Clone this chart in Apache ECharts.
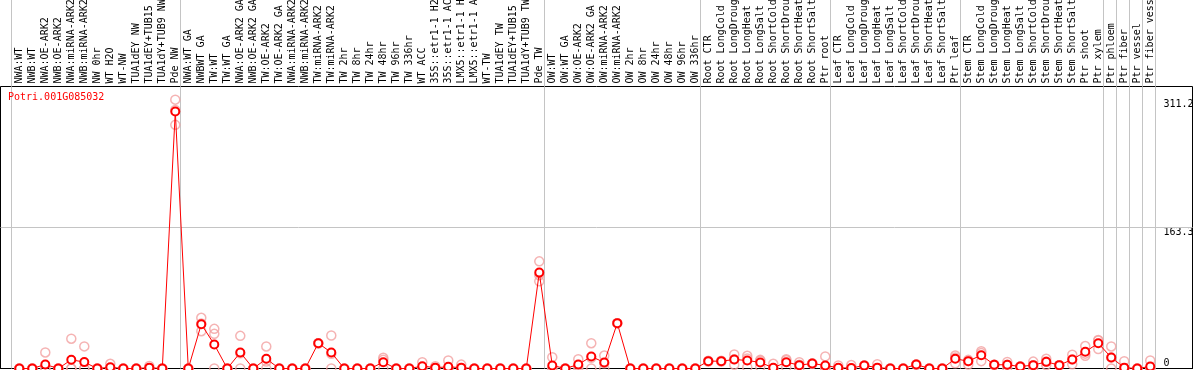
<!DOCTYPE html>
<html><head><meta charset="utf-8">
<script src="https://cdn.jsdelivr.net/npm/echarts@6/dist/echarts.min.js"></script>
<style>html,body{margin:0;padding:0;background:#fff}#c{width:1194px;height:370px}</style>
</head><body><div id="c"></div>
<script>
const geneId = 'Potri.001G085032';
const categories = [
  'NWA:WT','NWB:WT','NWA:OE-ARK2','NWB:OE-ARK2','NWA:miRNA-ARK2','NWB:miRNA-ARK2','NW 0hr','WT H2O','WT-NW','TUA1dEY NW','TUA1dEY+TUB15','TUA1dY+TUB9 NW','Pde NW',
  'NWA:WT GA','NWBWT GA','TW:WT','TW:WT GA','NWA:OE-ARK2 GA','NWB:OE-ARK2 GA','TW:OE-ARK2','TW:OE-ARK2 GA','NWA:miRNA-ARK2','NWB:miRNA-ARK2','TW:miRNA-ARK2','TW:miRNA-ARK2','TW 2hr','TW 8hr','TW 24hr','TW 48hr','TW 96hr','TW 336hr','WT ACC','35S::etr1-1 H2O','35S::etr1-1 ACC','LMX5::etr1-1 H2O','LMX5::etr1-1 ACC','WT-TW','TUA1dEY TW','TUA1dEY+TUB15','TUA1dY+TUB9 TW','Pde TW',
  'OW:WT','OW:WT GA','OW:OE-ARK2','OW:OE-ARK2 GA','OW:miRNA-ARK2','OW:miRNA-ARK2','OW 2hr','OW 8hr','OW 24hr','OW 48hr','OW 96hr','OW 336hr',
  'Root CTR','Root LongCold','Root LongDrought','Root LongHeat','Root LongSalt','Root ShortCold','Root ShortDrought','Root ShortHeat','Root ShortSalt','Ptr root',
  'Leaf CTR','Leaf LongCold','Leaf LongDrought','Leaf LongHeat','Leaf LongSalt','Leaf ShortCold','Leaf ShortDrought','Leaf ShortHeat','Leaf ShortSalt','Ptr leaf',
  'Stem CTR','Stem LongCold','Stem LongDrought','Stem LongHeat','Stem LongSalt','Stem ShortCold','Stem ShortDrought','Stem ShortHeat','Stem ShortSalt','Ptr shoot','Ptr xylem',
  'Ptr phloem','Ptr fiber','Ptr vessel','Ptr fiber vessel'
];
const groupSizes = [13, 28, 12, 10, 10, 11, 1, 1, 1, 1];
const means = [
  0,0,4.7,0,10.1,7.4,0,1.5,0,0,1,0,297.5,
  0,51.3,27.8,0,18.5,0,11.2,0,0,0,29.3,18.5,0,0,0,7.3,0,0,2.7,1,1.9,1,0,0,0,0,0,111,
  3.5,0,4.6,13.9,7,52.5,0,0,0,0,0,0,
  8.5,8.5,10.4,9.3,7,0.8,7.3,3.9,5.8,3.5,
  0.8,0.5,3.5,1,0,0,4.6,0,0,11.2,
  8.5,15.4,4.3,4.3,2.3,3.9,7.7,3.9,10.4,19.3,29.3,
  12.7,1,0,2.3
];
const repA = [
  0,0,18.6,0,34.5,25.6,0,5.4,0,0,3,0,311.2,
  0,58.7,45.9,0,37.8,0,25.5,0,0,0,29.3,38.2,0,0,0,12.4,0,0,7.3,2.7,9.3,4.5,0,0,0,0,0,124,
  13,0,10.8,29.3,15,52.5,0,0,0,0,0,0,
  9,9,16.2,14.7,10,5.4,10.8,7.3,5.8,14,
  3.5,4,3.5,5,0,0,4.6,0,0,15,
  10,20,4.3,7.5,2.3,8,11.2,3.9,16,26,32.4,
  25.5,8.5,0,9.3
];
const repB = [
  0,0,0,0,0,0,0,0,0,0,0,0,299.3,
  0,52,40.1,0,17.7,0,8,0,0,0,29.3,17,0,0,0,10,0,0,0.8,0.3,0,0,0,0,0,0,0,108,
  0,0,3,12.4,6,52.5,0,0,0,0,0,0,
  8.5,8.5,10.6,11.7,9,0,9.6,4.4,5.8,0,
  0,0,3.5,0,0,0,4.6,0,0,12.6,
  8.5,17.8,4.3,4.3,2.3,3.7,8,3.9,10.4,17.2,32.9,
  12.6,0,0,0
];
const repC = [
  0,0,0,0,0,0,0,0,0,0,0,0,282,
  0,43.2,0,0,0,0,0,0,0,0,29.3,0,0,0,0,0,0,0,0,0,0,0,0,0,0,0,0,101,
  0,0,0,0,0,52.5,0,0,0,0,0,0,
  8,8,4.4,1.5,2,0,1.5,0,5.8,0,
  0,0,3.5,0,0,0,4.6,0,0,6,
  4.6,8.5,4.3,1,2.3,0,4,3.9,4.8,14.7,22.6,
  0,0,0,0
];
const yLabelValuesTop = [163.3, 311.2];
const yLabelValuesBottom = [0];
const yGridValue = 163.3;

const font = 'DejaVu Sans Mono';
const xMin = -1.446, xMax = 90.25, yMax = 326.4;

const boundaries = [-0.64];
let cum = 0;
groupSizes.forEach(s => { cum += s; boundaries.push(cum - 0.64); });

const idx = categories.map((_, i) => i);
const reps = [];
[repA, repB, repC].forEach(arr => arr.forEach((v, i) => reps.push([i, v])));

const grey = '#c4c4c4';
const vLines = boundaries.map(b => ({ xAxis: b }));

const chart = echarts.init(document.getElementById('c'), null, { renderer: 'canvas' });
chart.setOption({
  animation: false,
  backgroundColor: '#fff',
  title: {
    text: geneId, left: 8, top: 92, padding: 0,
    textStyle: { color: '#ff0000', fontFamily: font, fontSize: 10, fontWeight: 'normal' }
  },
  grid: [
    { left: 0.5, right: 1.5, top: 0, height: 86.5, outerBoundsMode: 'none', containLabel: false },
    { left: 0.5, right: 1.5, top: 86.5, bottom: 1.5, outerBoundsMode: 'none', containLabel: false,
      show: true, borderColor: '#000', borderWidth: 1, backgroundColor: 'transparent' }
  ],
  xAxis: [
    { type: 'value', gridIndex: 0, min: xMin, max: xMax, show: false },
    { type: 'value', gridIndex: 1, min: xMin, max: xMax, position: 'top',
      axisLine: { show: true, lineStyle: { color: '#000', width: 1 } },
      axisTick: { show: false }, splitLine: { show: false },
      axisLabel: { customValues: idx, formatter: v => categories[Math.round(v)] || '',
        rotate: 90, margin: 3, color: '#000', fontFamily: font, fontSize: 10, hideOverlap: false } }
  ],
  yAxis: [
    { type: 'value', gridIndex: 0, min: 0, max: 1, show: false },
    { type: 'value', gridIndex: 1, min: 0, max: yMax, position: 'right',
      axisLine: { show: false }, axisTick: { show: false }, splitLine: { show: false },
      axisLabel: { customValues: yLabelValuesTop, inside: true, align: 'left', margin: 29,
        verticalAlign: 'top', color: '#000', fontFamily: font, fontSize: 10, formatter: v => String(v) } },
    { type: 'value', gridIndex: 1, min: 0, max: yMax, position: 'right',
      axisLine: { show: false }, axisTick: { show: false }, splitLine: { show: false },
      axisLabel: { customValues: yLabelValuesBottom, inside: true, align: 'left', margin: 29,
        verticalAlign: 'bottom', color: '#000', fontFamily: font, fontSize: 10, formatter: v => String(v) } }
  ],
  series: [
    { type: 'line', xAxisIndex: 0, yAxisIndex: 0, data: [], silent: true,
      markLine: { silent: true, symbol: 'none', label: { show: false },
        lineStyle: { color: grey, width: 1, type: 'solid' }, data: vLines } },
    { type: 'scatter', xAxisIndex: 1, yAxisIndex: 1, data: reps, z: 2, silent: true,
      symbol: 'circle', symbolSize: 9,
      itemStyle: { color: 'rgba(0,0,0,0)', borderColor: '#f2a0a0', borderWidth: 1.5 },
      markLine: { silent: true, symbol: 'none', label: { show: false }, z: 1,
        lineStyle: { color: grey, width: 1, type: 'solid' },
        data: vLines.concat([{ yAxis: yGridValue }]) } },
    { type: 'line', xAxisIndex: 1, yAxisIndex: 1, data: means.map((v, i) => [i, v]), z: 3,
      symbol: 'emptyCircle', symbolSize: 8, silent: true,
      lineStyle: { color: '#ff0000', width: 1 },
      itemStyle: { color: '#ff0000', borderWidth: 2 } }
  ]
});
</script></body></html>
